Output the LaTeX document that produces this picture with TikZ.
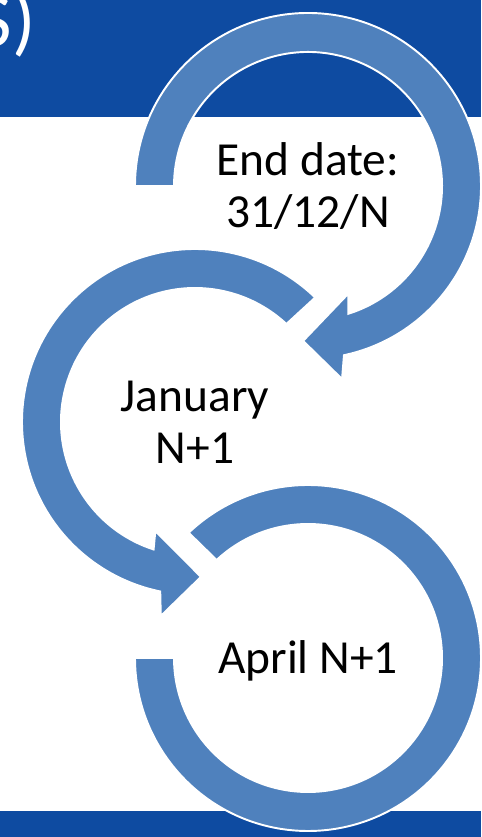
\documentclass[tikz,border=0pt]{standalone}
\usepackage{fontspec}
\setmainfont{Carlito}
\usepackage{xcolor}
\usepackage{tikz}
\usetikzlibrary{positioning,calc}
\definecolor{BannerBlue}{RGB}{14,75,161}
\definecolor{RingBlue}{RGB}{79,129,189}
\tikzset{
    ringarrow/.style={fill=RingBlue, draw=white, line width=1.1pt, line join=miter},
    steptext/.style={font=\fontsize{27}{29.5}\selectfont, align=center, text=black, inner sep=0pt}
}

\begin{document}
\begin{tikzpicture}[
					x=0.02cm, y=0.02cm,
					% Style cho dai mau xanh
					banner/.style={
						fill=BannerBlue,
						draw=none
					},
					% Style cho chu tieu de
					titletext/.style={
						text=white,
						font=\fontsize{44}{48}\selectfont,
						inner sep=0pt
					}
				]
					\useasboundingbox (0,0) rectangle (481,837);
					
					% --- NEN ---
					\fill[banner] (0,720) rectangle (481,837);
					\fill[banner] (0,0) rectangle (481,26);
					\node[titletext, anchor=base east] (title) at (36,790) {S)};
					
					% --- TAM CAC VONG ---
					\coordinate (c1) at (308,651);
					\coordinate (c2) at (195,415);
					\coordinate (c3) at (308,179);
					
					% Vong 1 (mui ten xuong duoi)
					\draw[ringarrow] ($(c1)+(180:173)$) arc[start angle=180, end angle=-78, radius=173]
						-- ($(c1)+(-80:196)$) -- ($(c1)+(-91.8:155)$) -- ($(c1)+(-69.5:115)$)
						-- ($(c1)+(-72.5:134)$) arc[start angle=-72.5, end angle=180, radius=134] -- cycle;
					
					% Vong 2 (mui ten sang phai)
					\draw[ringarrow] ($(c2)+(46:173)$) arc[start angle=46, end angle=258.4, radius=173]
						-- ($(c2)+(260:197)$) -- ($(c2)+(272.2:155)$) -- ($(c2)+(250:116)$)
						-- ($(c2)+(252:134)$) arc[start angle=252, end angle=47, radius=134] -- cycle;
					
					% Vong 3 (khong co mui ten)
					\draw[ringarrow] ($(c3)+(180:173)$) arc[start angle=180, end angle=493.6, radius=173]
						-- ($(c3)+(493:134)$) arc[start angle=493, end angle=180, radius=134] -- cycle;
					
					% --- CHU ---
					\node[steptext] (enddate) at (c1) {End date:\\31/12/N};
					\node[steptext] (january) at (c2) {January\\N+1};
					\node[steptext] (april) at ($(c3)+(0,-3)$) {April N+1};
					
				\end{tikzpicture}
\end{document}
